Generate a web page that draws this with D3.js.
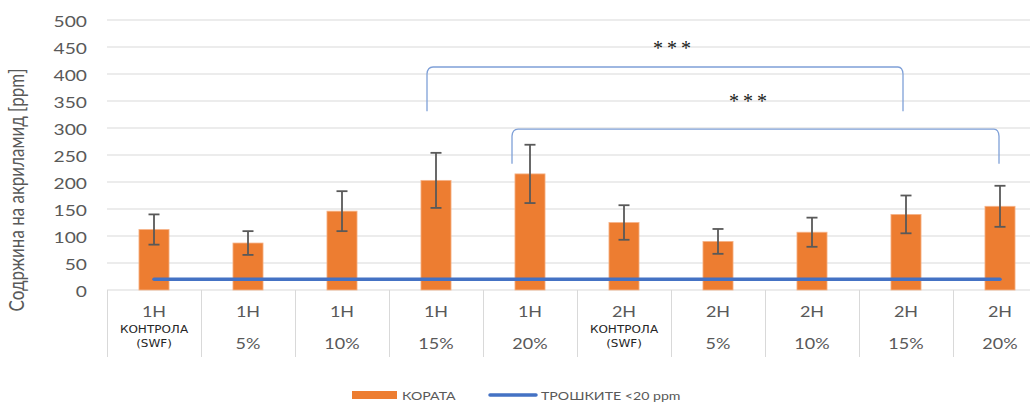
<!DOCTYPE html>
<html>
<head>
<meta charset="utf-8">
<script src="https://cdn.jsdelivr.net/npm/d3@7"></script>
<style>
  html, body { margin: 0; padding: 0; background: #fff; overflow: hidden; }
  svg { display: block; }
</style>
</head>
<body>
<svg id="chart" width="1030" height="403"></svg>
<script>
// Acrylamide content per sample group
const groups      = ["1H", "1H", "1H", "1H", "1H", "2H", "2H", "2H", "2H", "2H"];
const subLabels   = ["КОНТРОЛА\n(SWF)", "5%", "10%", "15%", "20%", "КОНТРОЛА\n(SWF)", "5%", "10%", "15%", "20%"];
const crustValues = [112, 87, 146, 203, 215, 125, 90, 107, 140, 155];
const crustErrors = [28, 22, 37, 51, 54, 32, 23, 27, 35, 38];
const crumbValues = [20, 20, 20, 20, 20, 20, 20, 20, 20, 20];
const yTicks      = [0, 50, 100, 150, 200, 250, 300, 350, 400, 450, 500];
const seriesNames = ["КОРАТА", "ТРОШКИТЕ <20 ppm"];
const yTitle      = "Содржина на акриламид [ppm]";
// significance brackets: [from group, to group, top value, foot value]
const sigFrom  = [3, 4];
const sigTo    = [8, 9];
const sigTop   = [413, 298];
const sigFoot  = [331, 234];
const sigLabel = ["***", "***"];

const svg = d3.select("#chart");
const SX = 1.2;                       // horizontal text stretch
const labelFont = "Lato, 'Open Sans', sans-serif";

const plot = { left: 107, right: 1047, top: 20, bottom: 290 };
const idx = d3.range(groups.length);

const x = d3.scaleBand().domain(idx).range([plot.left, plot.right]).padding(0);
const cx = i => x(i) + x.bandwidth() / 2;
const y = d3.scaleLinear().domain([0, 500]).range([plot.bottom, plot.top]);

function text(g, px, py, str, o = {}) {
  return g.append("text")
    .attr("transform", `translate(${px},${py}) scale(${SX},1)${o.rotate ? " rotate(" + o.rotate + ")" : ""}`)
    .attr("text-anchor", o.anchor || "middle")
    .attr("font-family", o.family || labelFont)
    .attr("font-size", o.size || 14)
    .attr("font-weight", o.weight || 400)
    .attr("fill", o.fill || "#595959")
    .text(str);
}

// gridlines
svg.append("g")
  .selectAll("line")
  .data(yTicks.filter(t => t > 0))
  .join("line")
  .attr("x1", plot.left).attr("x2", plot.right)
  .attr("y1", d => y(d)).attr("y2", d => y(d))
  .attr("stroke", "#d9d9d9").attr("stroke-width", 1);

// y axis tick labels
const yAxis = d3.axisLeft(y).tickValues(yTicks).tickSize(0).tickPadding(0);
const ya = svg.append("g").attr("transform", `translate(${plot.left},0)`).call(yAxis);
ya.select(".domain").remove();
ya.selectAll(".tick text").remove();
ya.selectAll(".tick").each(function (d) {
  text(d3.select(this), -20, 6.5, d, { anchor: "end", size: 16 });
});

// category table
const table = svg.append("g");
table.append("line")
  .attr("x1", plot.left).attr("x2", plot.right)
  .attr("y1", y(0)).attr("y2", y(0))
  .attr("stroke", "#d9d9d9");
table.selectAll("line.sep")
  .data(idx)
  .join("line")
  .attr("class", "sep")
  .attr("x1", d => x(d) + 0.5).attr("x2", d => x(d) + 0.5)
  .attr("y1", y(0)).attr("y2", 357)
  .attr("stroke", "#d9d9d9");

idx.forEach(i => {
  text(table, cx(i), 317, groups[i], { size: 15 });
  const parts = subLabels[i].split("\n");
  if (parts.length > 1) {
    text(table, cx(i), 333, parts[0], { size: 10, family: "'DejaVu Sans', sans-serif", fill: "#262626" });
    text(table, cx(i), 346.5, parts[1], { size: 10, family: "'DejaVu Sans', sans-serif", fill: "#262626" });
  } else {
    text(table, cx(i), 348.5, parts[0], { size: 15 });
  }
});

// bars
const barW = x.bandwidth() * 0.32;
svg.append("g")
  .selectAll("rect")
  .data(idx)
  .join("rect")
  .attr("x", d => cx(d) - barW / 2)
  .attr("y", d => y(crustValues[d]))
  .attr("width", barW)
  .attr("height", d => y(0) - y(crustValues[d]))
  .attr("fill", "#ed7d31")
  .attr("stroke", "#f6b48a").attr("stroke-width", 0.8);

// error bars
const eb = svg.append("g").attr("stroke", "#595959").attr("stroke-width", 1.8);
idx.forEach(i => {
  const hi = y(crustValues[i] + crustErrors[i]);
  const lo = y(crustValues[i] - crustErrors[i]);
  eb.append("line").attr("x1", cx(i)).attr("x2", cx(i)).attr("y1", hi).attr("y2", lo);
  eb.append("line").attr("x1", cx(i) - 5.5).attr("x2", cx(i) + 5.5).attr("y1", hi).attr("y2", hi);
  eb.append("line").attr("x1", cx(i) - 5.5).attr("x2", cx(i) + 5.5).attr("y1", lo).attr("y2", lo);
});

// crumb line
svg.append("path")
  .datum(idx)
  .attr("fill", "none")
  .attr("stroke", "#4472c4")
  .attr("stroke-width", 3.5)
  .attr("stroke-linecap", "round")
  .attr("d", d3.line().x(d => cx(d)).y(d => y(crumbValues[d])));

// significance brackets
const bracketOffsets = [[-9, -3], [-18, -1]];
const sig = svg.append("g");
sigFrom.forEach((f, k) => {
  const x0 = cx(f) + bracketOffsets[k][0];
  const x1 = cx(sigTo[k]) + bracketOffsets[k][1];
  const yt = y(sigTop[k]);
  const yf = y(sigFoot[k]);
  const p = d3.path();
  p.moveTo(x0, yf);
  p.lineTo(x0, yt + 7);
  p.quadraticCurveTo(x0 + 0.5, yt, x0 + 6, yt);
  p.lineTo(x1 - 5, yt);
  p.quadraticCurveTo(x1 - 0.5, yt, x1, yt + 7);
  p.lineTo(x1, yf);
  sig.append("path")
    .attr("d", p.toString())
    .attr("fill", "none")
    .attr("stroke", "#7fa0d8")
    .attr("stroke-width", 1.3);
});
const starPos = [[674, 45], [750, 98]];
sigLabel.forEach((s, k) => {
  sig.append("text")
    .attr("x", starPos[k][0]).attr("y", starPos[k][1] + 10)
    .attr("text-anchor", "middle")
    .attr("font-family", "'Liberation Serif', serif")
    .attr("font-size", 20)
    .attr("letter-spacing", 4)
    .attr("fill", "#1a1a1a")
    .text(s);
});

// y axis title
text(svg, 24, 190, yTitle, { rotate: -90, size: 17 });

// legend
const lg = svg.append("g");
lg.append("rect").attr("x", 352).attr("y", 391).attr("width", 45).attr("height", 8).attr("fill", "#ed7d31");
text(lg, 402, 399.5, seriesNames[0], { anchor: "start", size: 11.8 });
lg.append("line").attr("x1", 490).attr("x2", 536).attr("y1", 395).attr("y2", 395)
  .attr("stroke", "#4472c4").attr("stroke-width", 3.5).attr("stroke-linecap", "round");
text(lg, 541, 399.5, seriesNames[1], { anchor: "start", size: 11.8 });
</script>
</body>
</html>
